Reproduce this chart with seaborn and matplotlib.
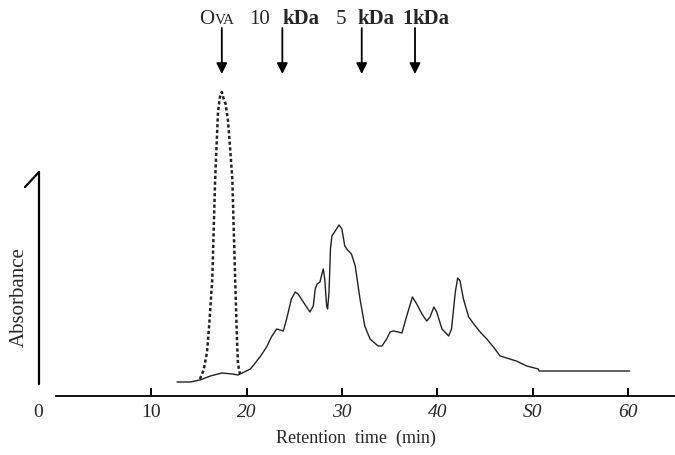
import pandas as pd
import seaborn as sns
import matplotlib.pyplot as plt
from matplotlib.transforms import ScaledTranslation

# --- DATA ---
sample_time = [12.7, 14.1, 15.1, 16.2, 17.4, 18.5, 19.1, 20.4, 21.4, 22.1, 22.6, 23.15,
               23.5, 23.85, 24.2, 24.7, 25.1, 25.4, 25.95, 26.65, 27.0, 27.2, 27.4, 27.7,
               27.9, 28.05, 28.2, 28.4, 28.5, 28.65, 28.8, 28.95, 29.3, 29.7, 30.0, 30.3,
               30.6, 31.0, 31.4, 31.9, 32.4, 32.95, 33.8, 34.2, 34.7, 35.05, 35.4, 35.9,
               36.3, 36.8, 37.4, 37.85, 38.4, 38.9, 39.25, 39.65, 39.95, 40.5, 41.2, 41.5,
               41.9, 42.15, 42.4, 42.75, 43.3, 44.0, 44.5, 45.2, 45.9, 46.6, 48.3, 49.4,
               50.6, 50.7, 60.2]
sample_abs = [0, 0, 2, 6, 9, 8, 7, 13, 25, 35, 45, 53,
              52, 51, 63, 83, 90, 88, 80, 70, 76, 93, 98, 100,
              108, 113, 103, 76, 73, 90, 133, 146, 151, 157, 153, 136,
              132, 128, 116, 83, 56, 43, 36, 36, 43, 50, 51, 50,
              49, 66, 85, 78, 68, 61, 65, 75, 70, 53, 46, 53,
              90, 104, 101, 83, 65, 56, 50, 43, 35, 26, 21, 16,
              13, 11, 11]

ova_time = [15.1, 15.5, 15.85, 16.1, 16.4, 16.7, 17.0, 17.2, 17.4, 17.6, 17.8, 18.05,
            18.3, 18.5, 18.8, 19.0, 19.1, 19.3]
ova_abs = [3, 12, 30, 60, 103, 203, 270, 285, 290, 283, 278, 261,
           230, 203, 103, 40, 18, 8]

# size markers (OVA, 10 kDa, 5 kDa, 1 kDa)
marker_time = [17.4, 23.75, 32.08, 37.67]
tick_values = [0, 10, 20, 30, 40, 50, 60]
tick_labels = ['0', '10', '20', '30', '40', 'S0', '60']
# -----------------------------------------------

sample = pd.DataFrame({'time': sample_time, 'abs': sample_abs})
ova = pd.DataFrame({'time': ova_time, 'abs': ova_abs})

sns.set_style('white')
plt.rcParams['font.family'] = ['Liberation Serif', 'DejaVu Serif']

fig = plt.figure(figsize=(6.75, 4.56), dpi=100)
ax = fig.add_axes([0.0547, 0.1294, 0.946, 0.8706])

sns.lineplot(data=sample, x='time', y='abs', ax=ax, color='#222222', lw=1.0,
             estimator=None, sort=False)
sns.lineplot(data=ova, x='time', y='abs', ax=ax, color='#222222', lw=1.8,
             estimator=None, sort=False, linestyle=(0, (1.3, 1.0)))
for ln in ax.lines:
    ln.set_solid_joinstyle('round')

ax.set_xlim(-2, 65)
ax.set_ylim(-14, 383)

for s in ['top', 'right', 'left']:
    ax.spines[s].set_visible(False)
ax.spines['bottom'].set_bounds(0, 65)
ax.spines['bottom'].set_color('black')
ax.spines['bottom'].set_linewidth(1.3)

ax.set_xticks(tick_values)
ax.set_xticklabels(tick_labels)
ax.set_yticks([])
ax.tick_params(axis='x', bottom=True, direction='in', length=6, width=1.4,
               color='black', labelsize=14, pad=5)
for lbl in ax.get_xticklabels():
    if lbl.get_text() not in ('0', '10'):
        lbl.set_fontstyle('italic')
    else:
        lbl.set_fontstretch('condensed')
ax.xaxis.get_major_ticks()[0].tick1line.set_visible(False)
lbl0 = ax.get_xticklabels()[0]
lbl0.set_transform(lbl0.get_transform() + ScaledTranslation(-0.18, 0, fig.dpi_scale_trans))

ax.set_xlabel('Retention  time  (min)', fontsize=13, labelpad=6)
ax.set_ylabel('')

# Absorbance axis: a bare vertical stroke with a hook on top
ax.plot([-1.78, -1.78], [-2, 210], color='black', lw=1.6, clip_on=False)
ax.plot([-1.78, -3.25], [210, 195], color='black', lw=1.6, clip_on=False)
fig.text(0.028, 0.348, 'Absorbance', rotation=90, fontsize=15, ha='center', va='center')

# molecular weight markers
for t in marker_time:
    ax.annotate('', xy=(t, 308), xytext=(t, 354),
                arrowprops=dict(arrowstyle='-|>', color='black', lw=1.3,
                                mutation_scale=16, shrinkA=0, shrinkB=0),
                annotation_clip=False)

base = 359
ax.text(15.0, base, 'O', fontsize=15, va='baseline')
ax.text(16.7, base, 'VA', fontsize=11, va='baseline')
ax.text(20.3, base, '10', fontsize=15, va='baseline')
ax.text(23.8, base, 'kDa', fontsize=15, fontweight='bold', va='baseline')
ax.text(29.4, base, '5', fontsize=15, va='baseline')
ax.text(31.6, base, 'kDa', fontsize=15, fontweight='bold', va='baseline')
ax.text(36.3, base, '1', fontsize=15, fontweight='bold', va='baseline')
ax.text(37.4, base, 'kDa', fontsize=15, fontweight='bold', va='baseline')

fig.savefig('out.png', dpi=100)
